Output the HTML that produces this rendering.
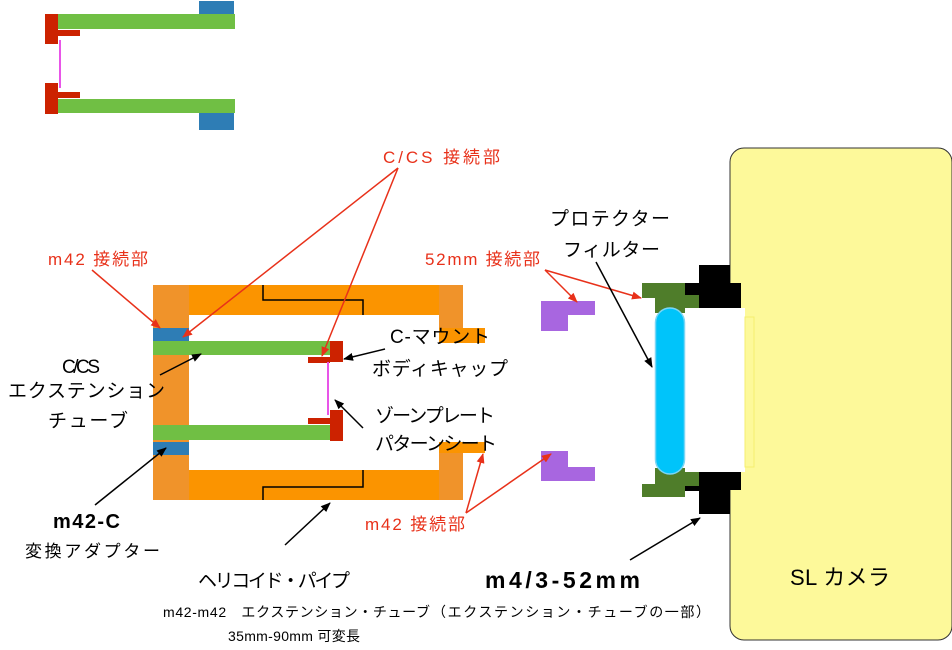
<!DOCTYPE html>
<html><head><meta charset="utf-8"><style>
html,body{margin:0;padding:0;background:#fff;}
svg{display:block;}
text{font-family:"Liberation Sans","Noto Sans CJK JP",sans-serif;}
</style></head><body>
<svg width="952" height="650" viewBox="0 0 952 650" xmlns="http://www.w3.org/2000/svg">
<defs>
<marker id="ar" markerWidth="10" markerHeight="8" refX="9" refY="4" orient="auto" markerUnits="userSpaceOnUse"><path d="M0,0 L10,4 L0,8 z" fill="#e8311a"/></marker>
<marker id="ab" markerWidth="10" markerHeight="8" refX="9" refY="4" orient="auto" markerUnits="userSpaceOnUse"><path d="M0,0 L10,4 L0,8 z" fill="#000"/></marker>
</defs>
<rect x="199" y="1" width="35" height="14" fill="#2e7db5"/>
<rect x="58" y="14" width="177" height="15" fill="#70bf44"/>
<rect x="45" y="14" width="13" height="30" fill="#cc2200"/>
<rect x="58" y="30" width="22" height="6" fill="#cc2200"/>
<rect x="59" y="40" width="2" height="48" fill="#e855e8"/>
<rect x="45" y="83" width="13" height="31" fill="#cc2200"/>
<rect x="58" y="92" width="22" height="6" fill="#cc2200"/>
<rect x="58" y="99" width="177" height="14" fill="#70bf44"/>
<rect x="199" y="113" width="35" height="17" fill="#2e7db5"/>

<rect x="730" y="148" width="222" height="492" rx="14" fill="#fdf99a" stroke="#333" stroke-width="1"/>
<rect x="685" y="308" width="60" height="164" fill="#fff"/>
<rect x="745" y="317" width="9" height="150" fill="none" stroke="#f5ee70" stroke-width="1"/>

<rect x="153" y="285" width="310" height="30" fill="#fb9400"/>
<rect x="153" y="470" width="310" height="30" fill="#fb9400"/>
<rect x="153" y="285" width="36" height="215" fill="#f0932a"/>
<rect x="439" y="285" width="24" height="51" fill="#f0932a"/>
<rect x="439" y="328" width="46" height="15" fill="#fb9400"/>
<rect x="439" y="442" width="24" height="58" fill="#f0932a"/>
<rect x="439" y="442" width="46" height="11" fill="#fb9400"/>
<path d="M263,285 V300 H363 V315" fill="none" stroke="#000" stroke-width="1.5"/>
<path d="M363,470 V487 H263 V500" fill="none" stroke="#000" stroke-width="1.5"/>
<rect x="153" y="328" width="36" height="13" fill="#2e7db5"/>
<rect x="153" y="442" width="36" height="13" fill="#2e7db5"/>
<rect x="153" y="341" width="177" height="14" fill="#70bf44"/>
<rect x="153" y="425" width="177" height="15" fill="#70bf44"/>
<rect x="330" y="341" width="13" height="21" fill="#cc2200"/>
<rect x="308" y="357" width="22" height="6" fill="#cc2200"/>
<rect x="327" y="362" width="2" height="53" fill="#e855e8"/>
<rect x="330" y="410" width="13" height="31" fill="#cc2200"/>
<rect x="308" y="418" width="22" height="6" fill="#cc2200"/>

<rect x="541" y="301" width="27" height="30" fill="#a866e0"/>
<rect x="567" y="301" width="28" height="14" fill="#a866e0"/>
<rect x="541" y="451" width="27" height="30" fill="#a866e0"/>
<rect x="567" y="467" width="28" height="14" fill="#a866e0"/>

<rect x="642" y="283" width="43" height="15" fill="#4f7d2a"/>
<rect x="655" y="297" width="30" height="16" fill="#4f7d2a"/>
<rect x="685" y="295" width="14" height="13" fill="#4f7d2a"/>
<rect x="655" y="468" width="30" height="17" fill="#4f7d2a"/>
<rect x="685" y="472" width="14" height="14" fill="#4f7d2a"/>
<rect x="642" y="484" width="43" height="13" fill="#4f7d2a"/>
<rect x="655.5" y="308" width="29" height="166" rx="14.5" fill="#00c4fa" stroke="#7ad6f5" stroke-width="1.5"/>
<rect x="699" y="265" width="31" height="20" fill="#000"/>
<rect x="699" y="283" width="42" height="25" fill="#000"/>
<rect x="685" y="283" width="14" height="12" fill="#000"/>
<rect x="699" y="472" width="42" height="18" fill="#000"/>
<rect x="685" y="486" width="14" height="5" fill="#000"/>
<rect x="699" y="490" width="31" height="24" fill="#000"/>

<g stroke="#e8311a" stroke-width="1.5" fill="none">
<line x1="398" y1="168" x2="183" y2="337" marker-end="url(#ar)"/>
<line x1="398" y1="168" x2="322" y2="356" marker-end="url(#ar)"/>
<line x1="92" y1="270" x2="160" y2="328" marker-end="url(#ar)"/>
<line x1="545" y1="270" x2="577" y2="302" marker-end="url(#ar)"/>
<line x1="545" y1="270" x2="641" y2="298" marker-end="url(#ar)"/>
<line x1="466" y1="513" x2="483" y2="454" marker-end="url(#ar)"/>
<line x1="466" y1="513" x2="551" y2="454" marker-end="url(#ar)"/>
</g>
<g stroke="#000" stroke-width="1.5" fill="none">
<line x1="160" y1="375" x2="201" y2="354" marker-end="url(#ab)"/>
<line x1="385" y1="349" x2="344" y2="359" marker-end="url(#ab)"/>
<line x1="363" y1="428" x2="335" y2="400" marker-end="url(#ab)"/>
<line x1="95" y1="505" x2="166" y2="448" marker-end="url(#ab)"/>
<line x1="285" y1="545" x2="330" y2="503" marker-end="url(#ab)"/>
<line x1="596" y1="262" x2="652" y2="367" marker-end="url(#ab)"/>
<line x1="630" y1="560" x2="700" y2="518" marker-end="url(#ab)"/>
</g>

<g fill="#e8311a" font-size="17">
<text x="383" y="163" textLength="117">C/CS 接続部</text>
<text x="48" y="265" textLength="100">m42 接続部</text>
<text x="425" y="265" textLength="115">52mm 接続部</text>
<text x="365" y="530" textLength="100">m42 接続部</text>
</g>
<g fill="#000" font-size="19">
<text x="550" y="225" textLength="120">プロテクター</text>
<text x="563" y="256" textLength="97">フィルター</text>
<text x="62" y="373" textLength="38">C/CS</text>
<text x="8" y="397" textLength="157">エクステンション</text>
<text x="48" y="427" textLength="80">チューブ</text>
<text x="390" y="343" textLength="100">C-マウント</text>
<text x="372" y="375" textLength="136">ボディキャップ</text>
<text x="375" y="422" textLength="120">ゾーンプレート</text>
<text x="375" y="450" textLength="122">パターンシート</text>
<text x="53" y="528" font-size="20" font-weight="bold" textLength="67">m42-C</text>
<text x="25" y="557" font-size="17" textLength="135">変換アダプター</text>
<text x="198" y="587" font-size="19" textLength="152">ヘリコイド・パイプ</text>
<text x="163" y="617" font-size="14" textLength="267">m42-m42　エクステンション・チューブ</text>
<text x="228" y="641" font-size="14" textLength="132">35mm-90mm 可変長</text>
<text x="485" y="588" font-size="23" font-weight="bold" textLength="155">m4/3-52mm</text>
<text x="432" y="617" font-size="14" textLength="278">（エクステンション・チューブの一部）</text>
<text x="790" y="585" font-size="22" textLength="100">SL カメラ</text>
</g>
</svg>
</body></html>
